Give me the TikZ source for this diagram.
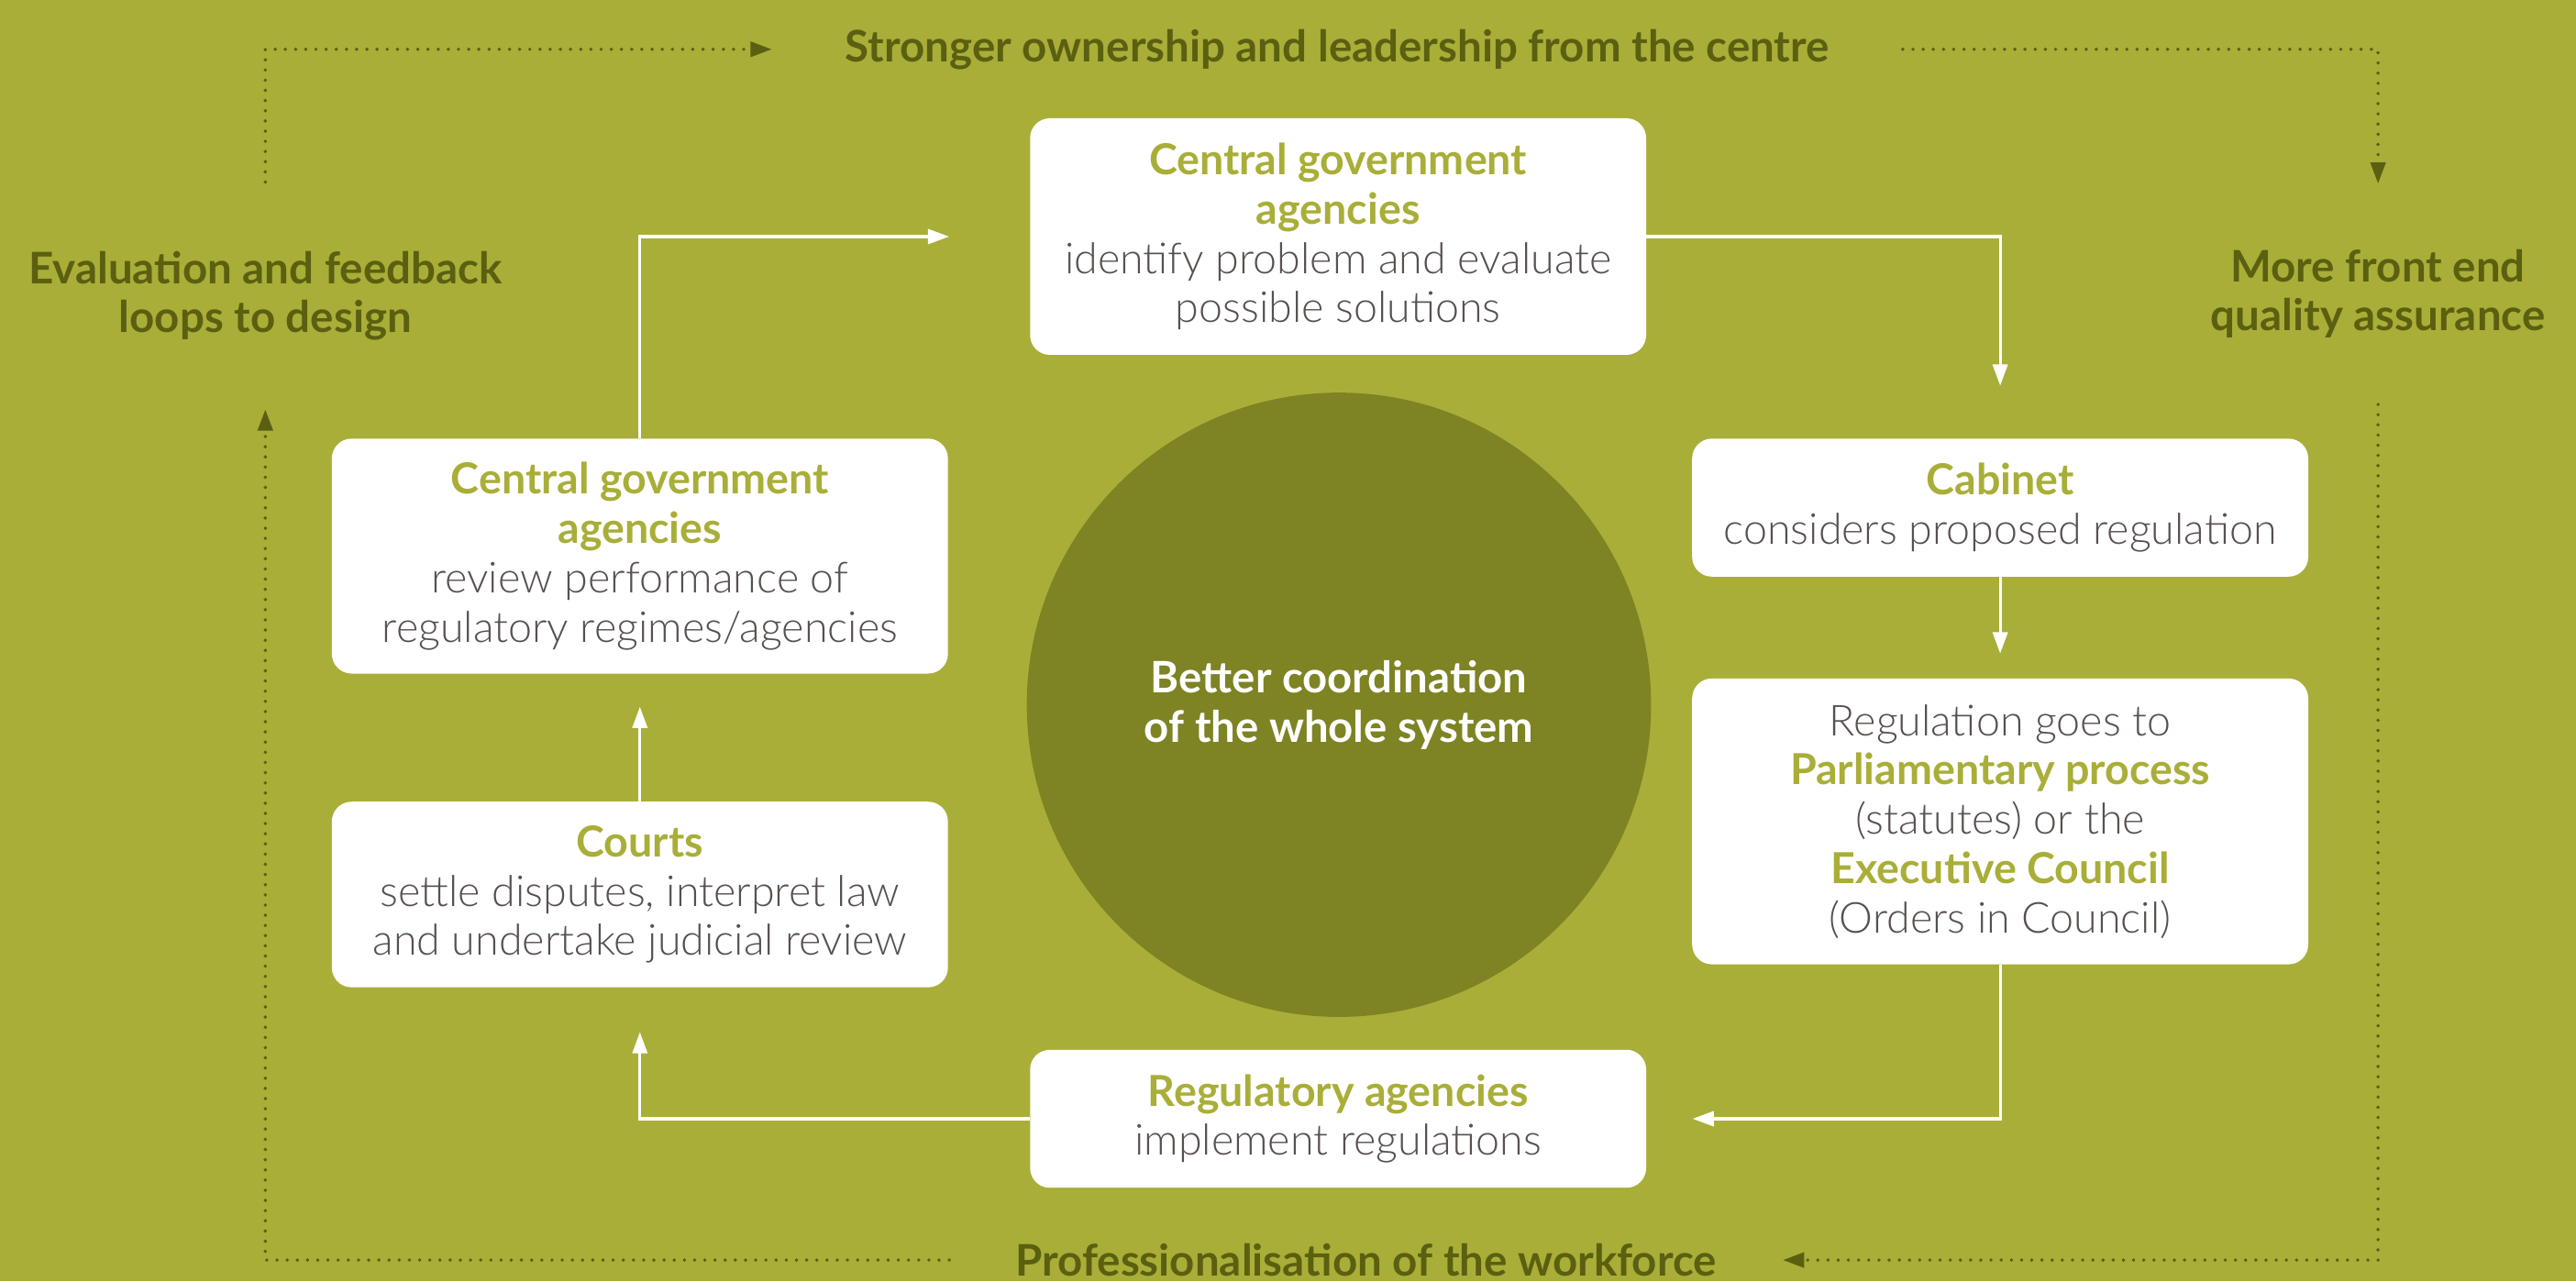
\documentclass[tikz,border=0pt]{standalone}
\usepackage{fontspec}
\setmainfont{Lato}
\newfontfamily\lightfont{Lato Light}
\usetikzlibrary{arrows.meta}
\definecolor{bg}{HTML}{A9AE38}
\definecolor{darkol}{HTML}{5A6010}
\definecolor{circ}{HTML}{7E8323}
\definecolor{bodygray}{HTML}{57504E}
\newcommand\hd[1]{{\rmfamily\bfseries\color{bg}#1}}
\begin{document}
\begin{tikzpicture}[x=1pt,y=-1pt,
  box/.style={rectangle, rounded corners=12pt, fill=white, minimum width=375pt, align=center, inner sep=0pt, text=bodygray, font=\lightfont\fontsize{26}{30}\selectfont},
  outer/.style={inner sep=0pt, align=center, text=darkol, font=\bfseries\fontsize{26.5}{29.5}\selectfont},
  conn/.style={draw=white, line width=1.8pt, -{Triangle[length=13pt,width=9pt]}},
  dots/.style={draw=darkol, line width=2.2pt, line cap=round, dash pattern=on 0pt off 6.2pt, -{Triangle[length=13pt,width=9pt,fill=darkol]}}
]
\fill[bg] (0,0) rectangle (1568,780);
\useasboundingbox (0,0) rectangle (1568,780);

% centre circle
\node[circle, fill=circ, minimum size=380pt, inner sep=0pt, align=center, text=white, font=\bfseries\fontsize{26.4}{30}\selectfont] (core) at (815,429) {Better coordination\\of the whole system};

% boxes
\node[box, minimum height=144pt] (top) at (814.5,144) {\hd{Central government}\\\hd{agencies}\\identify problem and evaluate\\possible solutions};
\node[box, minimum height=84pt] (cab) at (1217.5,309) {\hd{Cabinet}\\considers proposed regulation};
\node[box, minimum height=174pt] (parl) at (1217.5,500) {Regulation goes to\\\hd{Parliamentary process}\\(statutes) or the\\\hd{Executive Council}\\(Orders in Council)};
\node[box, minimum height=84pt] (reg) at (814.5,681) {\hd{Regulatory agencies}\\implement regulations};
\node[box, minimum height=113pt] (courts) at (389.5,544.5) {\hd{Courts}\\settle disputes, interpret law\\and undertake judicial review};
\node[box, minimum height=143pt] (review) at (389.5,338.5) {\hd{Central government}\\\hd{agencies}\\review performance of\\regulatory regimes/agencies};

% white connectors
\draw[conn, shorten >=49pt] (review.north) |- (top.west);
\draw[conn, shorten >=32pt] (top.east) -| (cab.north);
\draw[conn, shorten >=15pt] (cab.south) -- (parl.north);
\draw[conn, shorten >=28pt] (parl.south) |- (reg.east);
\draw[conn, shorten >=27pt] (reg.west) -| (courts.south);
\draw[conn, shorten >=20pt] (courts.north) -- (review.south);

% outer labels
\node[outer, minimum width=688pt] (strong) at (814,30) {Stronger ownership and leadership from the centre};
\node[outer, minimum width=507pt] (prof) at (831.5,767) {Professionalisation of the workforce};
\node[outer, minimum height=138pt] (evalu) at (161.5,180) {Evaluation and feedback\\loops to design};
\node[outer, minimum height=134pt] (front) at (1447.5,179) {More front end\\quality assurance};

% dotted loop
\draw[dots] (evalu.north) |- (strong.west);
\draw[dots] (strong.east) -| (front.north);
\draw[dots] (front.south) |- (prof.east);
\draw[dots] (prof.west) -| (evalu.south);
\end{tikzpicture}
\end{document}
